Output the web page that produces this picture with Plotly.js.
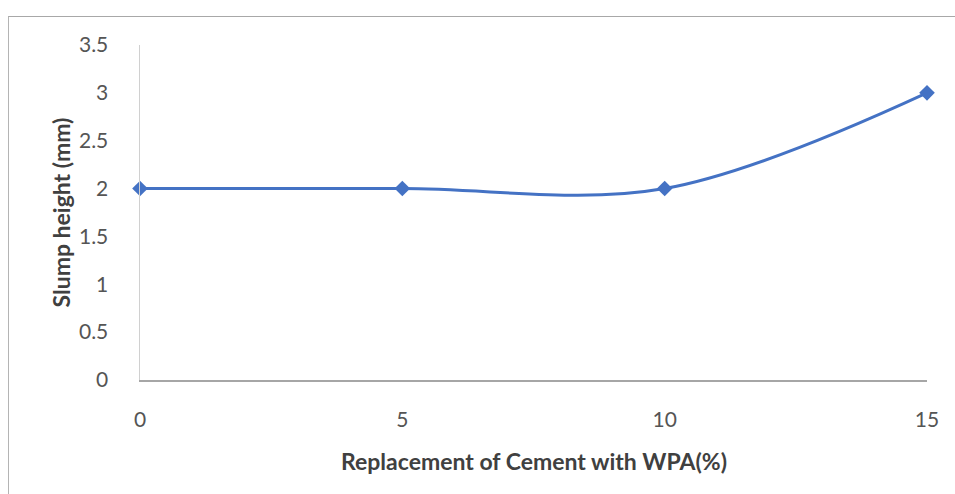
<!DOCTYPE html>
<html>
<head>
<meta charset="utf-8">
<script src="https://cdn.plot.ly/plotly-3.0.1.min.js"></script>
<style>
  html, body { margin: 0; padding: 0; background: #fff; }
  #wrap { position: relative; width: 955px; height: 494px; overflow: hidden; }
  #chart { position: absolute; left: 0; top: 0; width: 955px; height: 494px; }
  #frame { position: absolute; left: 8px; top: 16px; width: 960px; height: 500px;
           border-left: 1px solid #b4b4b4; border-top: 1px solid #a8a8a8; pointer-events: none; }
</style>
</head>
<body>
<div id="wrap">
  <div id="chart"></div>
  <div id="frame"></div>
</div>
<script>
// Slump height for each cement replacement level
const replacement = [0, 5, 10, 15];
const slumpHeight = [2, 2, 2, 3];
const xTicks = [0, 5, 10, 15];
const yTicks = [0, 0.5, 1, 1.5, 2, 2.5, 3, 3.5];

const tickFont = { family: 'Lato, "Open Sans", sans-serif', size: 21, color: '#555555' };
const titleFont = { family: 'Lato, "Open Sans", sans-serif', size: 23, color: '#404040', weight: 'bold' };

const trace = {
  x: replacement,
  y: slumpHeight,
  type: 'scatter',
  mode: 'lines+markers',
  line: { color: '#4472C4', width: 3, shape: 'spline', smoothing: 1 },
  marker: { symbol: 'diamond', size: 12, color: '#4472C4' },
  cliponaxis: false,
  hoverinfo: 'x+y'
};

const layout = {
  width: 955,
  height: 494,
  margin: { l: 140, r: 28, t: 45, b: 114 },
  paper_bgcolor: '#ffffff',
  plot_bgcolor: '#ffffff',
  showlegend: false,
  xaxis: {
    range: [0, 15],
    tickvals: xTicks,
    ticktext: xTicks.map(String),
    showgrid: false,
    zeroline: false,
    showline: true,
    linecolor: '#a6a6a6',
    linewidth: 1.5,
    ticks: '',
    ticklabelstandoff: 20,
    tickfont: tickFont,
    fixedrange: true
  },
  yaxis: {
    range: [0, 3.5],
    tickvals: yTicks,
    ticktext: yTicks.map(String),
    showgrid: false,
    zeroline: false,
    showline: true,
    linecolor: '#d0d0d0',
    linewidth: 1.5,
    ticks: '',
    ticklabelstandoff: 26,
    tickfont: tickFont,
    fixedrange: true
  },
  annotations: [
    {
      text: 'Replacement of Cement with WPA(%)',
      xref: 'paper', yref: 'paper',
      x: 0.5, y: -0.242,
      xanchor: 'center', yanchor: 'middle',
      showarrow: false,
      font: titleFont
    },
    {
      text: 'Slump height (mm)',
      xref: 'paper', yref: 'paper',
      x: -0.1004, y: 0.5,
      xanchor: 'center', yanchor: 'middle',
      textangle: -90,
      showarrow: false,
      font: titleFont
    }
  ]
};

Plotly.newPlot('chart', [trace], layout, { displayModeBar: false, staticPlot: true });
</script>
</body>
</html>
